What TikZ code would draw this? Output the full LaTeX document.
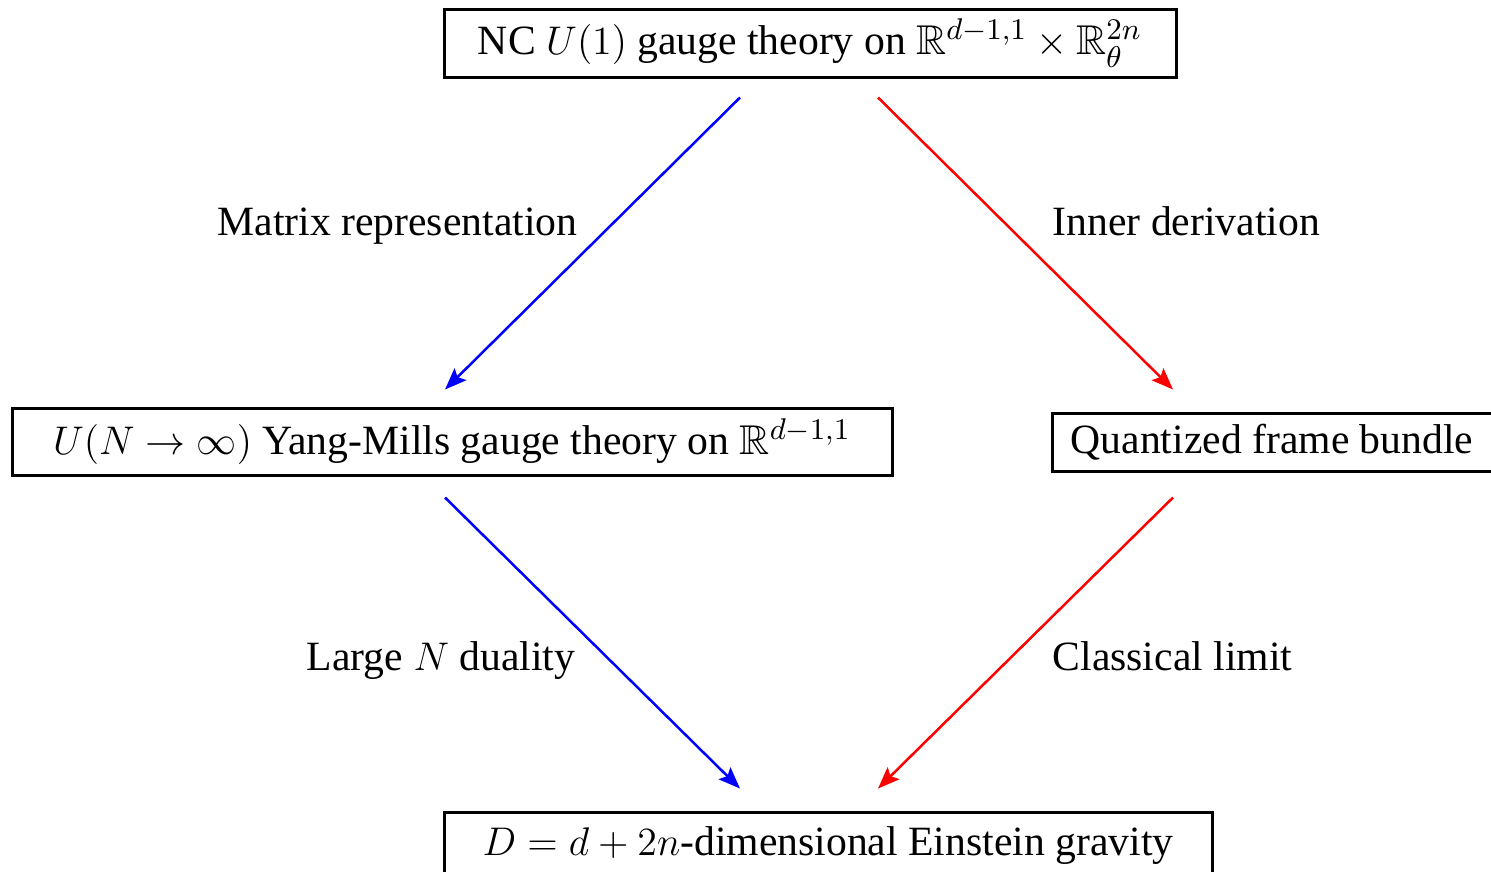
\documentclass[tikz,border=0pt]{standalone}
\usepackage{amsmath,amssymb}
\usepackage{fontspec}
\setmainfont{Liberation Serif}
\usetikzlibrary{arrows.meta, calc}
\definecolor{gaugeblue}{HTML}{0000ff}
\definecolor{gravred}{HTML}{ff0000}

\begin{document}
\begin{tikzpicture}[x=0.3pt, y=-0.3pt, font=\fontsize{12.5}{15}\selectfont,
    theory/.style={draw, line width=0.9pt, inner sep=0pt},
    lbl/.style={inner sep=0pt},
    bluearr/.style={gaugeblue, line width=0.75pt, -{Stealth[length=6.5pt, width=5pt, inset=1.2pt]}},
    redarr/.style={gravred, line width=0.75pt, -{Stealth[length=6.5pt, width=5pt, inset=1.2pt]}}]
    \useasboundingbox (0,0) rectangle (1491,871);
    % the four theories
    \node[theory, minimum width=219.6pt, minimum height=20.4pt] (nc) at (810,43)
      {NC $U(1)$ gauge theory on $\mathbb{R}^{d-1,1}\times\mathbb{R}^{2n}_{\theta}$};
    \node[theory, minimum width=264pt, minimum height=20.1pt] (ym) at (452,441.5)
      {$U(N\to\infty)$ Yang-Mills gauge theory on $\mathbb{R}^{d-1,1}$};
    \node[theory, minimum width=132pt, minimum height=17.4pt] (qfb) at (1272,442)
      {Quantized frame bundle};
    \node[theory, minimum width=230.4pt, minimum height=20.4pt] (ein) at (828,846)
      {$D=d+2n$-dimensional Einstein gravity};
    % gauge side
    \draw[bluearr] ($(nc.south)+(-70,19)$) -- ($(ym.north)+(-7,-17)$);
    \draw[bluearr] ($(ym.south)+(-7,21)$) -- ($(ein.north)+(-88,-22)$);
    % gravity side
    \draw[redarr] ($(nc.south)+(68,19)$) -- ($(qfb.north)+(-99,-22)$);
    \draw[redarr] ($(qfb.south)+(-99,25)$) -- ($(ein.north)+(50,-22)$);
    % labels
    \node[lbl, anchor=base east] (matrep) at (578,235) {Matrix representation};
    \node[lbl, anchor=base west] (innder) at (1052,235) {Inner derivation};
    \node[lbl, anchor=base east] (largen) at (576,670) {Large $N$ duality};
    \node[lbl, anchor=base west] (classlim) at (1052,670) {Classical limit};
\end{tikzpicture}
\end{document}
